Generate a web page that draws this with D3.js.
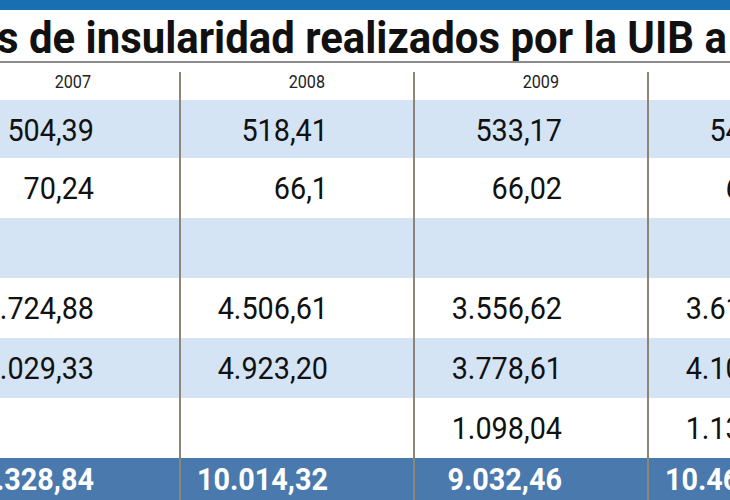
<!DOCTYPE html>
<html><head><meta charset="utf-8">
<script src="https://cdn.jsdelivr.net/npm/d3@7"></script>
<style>body{margin:0;overflow:hidden;background:#fff}</style>
</head><body><div id="chart"></div>
<script>
// data
const title = "Gastos de insularidad realizados por la UIB a lo largo de los años";
const years = ["2006", "2007", "2008", "2009", "2010"];
const col2006 = ["", "", "", "", "", "", ""];
const col2007 = ["504,39", "70,24", "", "4.724,88", "5.029,33", "", "10.328,84"];
const col2008 = ["518,41", "66,1", "", "4.506,61", "4.923,20", "", "10.014,32"];
const col2009 = ["533,17", "66,02", "", "3.556,62", "3.778,61", "1.098,04", "9.032,46"];
const col2010 = ["548,20", "65,80", "", "3.612,45", "4.102,37", "1.135,20", "10.464,02"];
const columns = [col2006, col2007, col2008, col2009, col2010];

const width = 730, height = 500;
const font = "'Liberation Sans Narrow','Roboto',sans-serif";
const svg = d3.select("#chart").append("svg").attr("width", width).attr("height", height);

const x = d3.scaleBand().domain(years).range([-54 - 234, -54 + 234 * 4]);

const rowTops = [100, 158, 218, 278, 338, 398, 458];
const rowH = [58, 60, 60, 60, 60, 60, 42];
const rowFill = ["#d4e4f4", "#fff", "#d4e4f4", "#fff", "#d4e4f4", "#fff", "#4a79ad"];

// top band
svg.append("rect").attr("x", 0).attr("y", 0).attr("width", width).attr("height", 10).attr("fill", "#1a6fb2");

// title, condensed horizontally
const t = svg.append("text").attr("x", 0).attr("y", 0)
    .style("font-family", font)
    .style("font-weight", "bold").style("font-size", "44px").attr("fill", "#111")
    .text(title);
const pre = t.node().getSubStringLength(0, 5);
const vis = t.node().getSubStringLength(5, title.indexOf(" a lo") + 2 - 5);
const sx = 730 / vis;
t.attr("transform", `translate(${-3 - pre * sx},53) scale(${sx},1)`);

svg.append("line").attr("x1", 0).attr("x2", width).attr("y1", 62).attr("y2", 62)
    .attr("stroke", "#8a8a8a").attr("stroke-width", 2);

// row backgrounds
svg.selectAll("rect.row").data(rowTops).join("rect").attr("class", "row")
    .attr("x", 0).attr("width", width)
    .attr("y", d => d).attr("height", (d, i) => rowH[i])
    .attr("fill", (d, i) => rowFill[i]);

// dividers
svg.selectAll("line.div").data(years.slice(1)).join("line").attr("class", "div")
    .attr("x1", d => x(d)).attr("x2", d => x(d))
    .attr("y1", 72).attr("y2", height)
    .attr("stroke", "#8c8676").attr("stroke-width", 2);

// year headers
svg.selectAll("text.year").data(years).join("text").attr("class", "year")
    .attr("transform", d => `translate(${x(d) + x.bandwidth() - 89},88) scale(0.85,1)`)
    .attr("text-anchor", "end")
    .style("font-family", font)
    .style("font-size", "19px").attr("fill", "#222").text(d => d);

// values
years.forEach((yr, c) => {
  svg.selectAll("text.v" + c).data(columns[c]).join("text").attr("class", "v" + c)
    .attr("transform", (d, i) => `translate(${x(yr) + x.bandwidth() - 86},${rowTops[i] + (i === 6 ? 32 : 41)}) scale(0.9,1)`)
    .attr("text-anchor", "end")
    .style("font-family", font)
    .style("font-size", "32px")
    .style("font-weight", (d, i) => i === 6 ? "bold" : "normal")
    .attr("fill", (d, i) => i === 6 ? "#fff" : "#111")
    .text(d => d);
});
</script></body></html>
